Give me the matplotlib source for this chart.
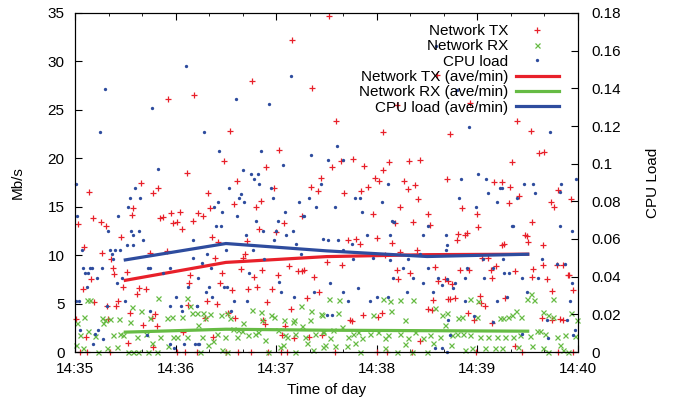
import numpy as np
import matplotlib
matplotlib.use("Agg")
import matplotlib.pyplot as plt
from matplotlib.ticker import MultipleLocator, FuncFormatter

plt.rcParams['font.family'] = ['Liberation Sans', 'DejaVu Sans']
plt.rcParams['font.size'] = 11

# seconds after 14:35:00, Network TX in Mb/s
tx_points = [
    (55.3, 26.1), (71.0, 26.5), (66.6, 18.5), (39.6, 17.4), (49.7, 16.9), (46.3, 16.4), (8.3, 16.5),
    (10.5, 13.8), (1.6, 13.2), (15.5, 13.4), (18.5, 13.0), (34.8, 14.9), (34.2, 14.1), (52.5, 13.9),
    (50.5, 13.8), (62.6, 14.5), (57.3, 14.3), (58.6, 13.3), (60.6, 13.4), (63.6, 12.7), (70.6, 13.5),
    (73.6, 14.4), (27.4, 11.9), (16.3, 10.2), (5.6, 10.8), (21.3, 9.6), (22.5, 8.7), (23.5, 8.1),
    (9.3, 7.5), (30.8, 8.3), (44.7, 10.2), (54.7, 10.4), (4.6, 6.5), (28.4, 6.7), (38.4, 6.6),
    (42.3, 6.5), (36.8, 6.0), (68.6, 7.9), (68.2, 7.1), (11.5, 5.2), (25.8, 5.3), (18.9, 4.7),
    (24.5, 4.7), (32.8, 4.0), (67.6, 4.9), (47.7, 3.9), (45.7, 3.5), (48.7, 2.7), (40.4, 2.8),
    (6.6, 1.5), (31.6, 0.9), (19.5, 3.4), (0.3, 3.4), (3.0, 0.0), (6.9, 0.0), (20.9, 0.0),
    (60.6, 0.0), (65.6, 0.0), (72.6, 0.0), (46.7, 0.5), (64.6, 2.1),
    (129.6, 32.2), (105.8, 28.0), (141.5, 27.3), (92.4, 22.8), (88.9, 19.7), (121.7, 20.9),
    (113.7, 19.1), (96.4, 17.7), (146.7, 18.0), (140.6, 17.0), (144.7, 16.6), (118.7, 16.9),
    (79.5, 16.4), (110.7, 15.6), (94.8, 15.3), (107.8, 15.0), (80.5, 14.9), (76.5, 14.0),
    (135.6, 14.0), (124.8, 13.3), (109.7, 12.7), (119.9, 12.4), (81.5, 11.9), (85.5, 11.4),
    (102.4, 11.5), (101.4, 10.1), (100.4, 9.7), (83.5, 9.7), (98.8, 8.6), (87.5, 8.2), (111.7, 8.5),
    (106.8, 7.7), (120.9, 7.9), (133.2, 8.4), (135.2, 8.4), (136.8, 8.5), (127.6, 8.9), (142.5, 7.7),
    (86.5, 7.1), (93.4, 6.4), (103.4, 6.5), (108.3, 6.7), (117.7, 6.5), (145.7, 6.2), (138.6, 5.6),
    (78.9, 5.3), (84.5, 5.0), (114.7, 5.2), (128.6, 4.4), (95.4, 3.5), (91.5, 4.0), (77.5, 3.5),
    (112.3, 3.3), (113.3, 2.9), (125.2, 2.7), (82.5, 1.6), (123.7, 1.8), (130.6, 1.4), (139.6, 1.6),
    (89.9, 0.0), (97.4, 0.0), (104.8, 0.0), (122.7, 0.0), (126.6, 0.0), (115.3, 0.0),
    (151.7, 34.7), (215.7, 28.6), (191.8, 25.5), (155.6, 23.9), (183.5, 22.7), (153.1, 19.1),
    (158.6, 19.7), (165.6, 19.9), (172.5, 19.2), (183.9, 18.8), (187.5, 19.6), (199.4, 19.7),
    (205.7, 19.8), (178.9, 18.0), (181.5, 17.7), (196.4, 17.7), (202.8, 17.2), (221.6, 17.9),
    (174.5, 17.0), (170.6, 16.6), (160.6, 16.4), (198.4, 16.8), (204.7, 15.8), (193.8, 15.0),
    (177.5, 14.2), (210.7, 14.2), (190.8, 13.3), (201.8, 13.4), (211.7, 13.1), (163.0, 11.6),
    (167.6, 11.7), (179.9, 11.8), (188.8, 11.3), (170.0, 11.1), (184.9, 10.0), (193.8, 10.3),
    (203.8, 10.5), (150.1, 9.3), (159.0, 9.0), (191.8, 8.5), (199.8, 8.2), (214.7, 8.8), (216.7, 7.3),
    (192.8, 7.5), (222.6, 7.3), (222.6, 5.5), (213.7, 5.4), (210.7, 4.4), (212.7, 4.3), (182.9, 4.0),
    (171.9, 3.8), (180.9, 3.6), (164.0, 3.3), (165.0, 3.2), (147.1, 1.8), (179.9, 0.0), (185.9, 0.0),
    (155.0, 0.0), (200.8, 0.0), (205.7, 1.1),
    (263.4, 23.9), (272.0, 22.8), (223.7, 22.5), (280.0, 20.7), (277.0, 20.5), (260.9, 19.6),
    (250.1, 17.6), (254.9, 17.6), (259.5, 17.0), (287.9, 16.7), (295.8, 15.8), (264.8, 16.1),
    (283.9, 15.5), (258.9, 15.4), (231.0, 14.9), (285.9, 15.0), (239.6, 14.2), (240.6, 12.9),
    (272.8, 13.4), (228.7, 12.2), (233.6, 12.3), (232.6, 12.1), (268.4, 12.1), (269.4, 12.0),
    (227.7, 11.6), (270.0, 11.4), (254.5, 11.0), (256.1, 11.1), (278.9, 11.0), (243.0, 9.7),
    (246.1, 9.7), (250.9, 8.9), (229.6, 8.5), (235.0, 8.5), (248.1, 8.5), (262.4, 8.4), (273.4, 8.6),
    (278.9, 9.0), (287.3, 9.0), (291.3, 9.0), (293.9, 8.0), (294.7, 7.9), (220.7, 7.5), (224.7, 7.0),
    (248.5, 7.6), (272.4, 7.7), (281.3, 7.5), (297.2, 6.4), (284.7, 6.3), (223.7, 5.5), (226.7, 5.6),
    (241.6, 5.8), (242.2, 5.1), (244.6, 4.7), (256.5, 5.6), (234.6, 4.0), (238.2, 3.3), (248.5, 3.0),
    (278.7, 3.5), (284.3, 3.3), (289.3, 3.4), (291.3, 3.3), (262.4, 0.6), (239.0, 0.0), (266.8, 0.0),
    (288.3, 0.0), (297.2, 0.0), (235.6, 25.7),
]

# Network RX in Mb/s
rx_points = [
    (6.9, 5.4), (8.9, 5.4), (5.4, 3.6), (15.9, 3.5), (17.9, 3.3), (20.9, 3.4), (26.4, 3.4), (33.8, 4.6),
    (39.4, 4.2), (49.7, 5.6), (44.7, 3.5), (54.7, 3.5), (57.7, 3.6), (63.6, 3.6), (66.6, 5.6),
    (68.6, 4.7), (69.6, 4.0), (3.0, 1.8), (7.9, 2.2), (11.9, 1.7), (22.9, 1.8), (26.8, 1.9),
    (28.8, 1.8), (36.8, 1.6), (45.7, 0.9), (50.7, 1.5), (58.6, 1.6), (60.6, 1.5), (66.6, 1.6),
    (0.4, 0.7), (5.0, 0.4), (18.9, 0.4), (24.9, 0.5), (31.8, 0.0), (34.8, 0.0), (37.8, 0.0),
    (43.7, 0.0), (48.7, 0.0), (13.9, 0.0), (1.0, 3.0), (16.9, 3.0), (32.8, 3.1), (42.3, 1.9), (55.7, 0.6),
    (72.6, 4.0), (76.5, 4.0), (80.5, 3.9), (87.1, 3.8), (90.5, 4.0), (92.4, 3.5), (100.4, 3.0),
    (105.8, 4.3), (110.7, 4.1), (116.9, 3.8), (118.9, 3.6), (111.3, 3.3), (124.6, 3.3), (129.8, 3.1),
    (130.6, 3.3), (134.6, 4.7), (135.6, 2.7), (140.2, 3.3), (140.6, 4.2), (146.7, 3.9), (73.6, 2.8),
    (77.5, 3.5), (94.4, 2.4), (97.4, 2.3), (99.4, 2.2), (103.4, 1.8), (107.4, 1.9), (109.3, 2.1),
    (113.3, 1.2), (121.3, 2.3), (125.2, 1.8), (131.2, 1.9), (137.2, 1.6), (143.1, 1.9), (147.7, 2.2),
    (79.5, 0.7), (82.5, 1.1), (87.5, 0.2), (90.5, 0.0), (74.6, 0.0), (115.3, 0.0), (124.2, 0.7),
    (122.3, 0.5), (131.2, 0.0), (142.1, 0.2), (148.1, 0.5), (75.5, 1.6), (84.5, 1.9), (89.5, 1.6),
    (96.4, 1.6), (126.2, 1.5), (138.2, 0.9),
    (151.7, 5.5), (157.6, 5.4), (183.9, 5.5), (187.8, 5.3), (193.8, 5.4), (201.8, 5.4), (147.1, 3.8),
    (157.0, 4.0), (177.9, 3.8), (188.5, 4.2), (197.1, 3.3), (218.7, 3.8), (221.6, 4.0), (214.7, 4.5),
    (148.1, 2.1), (154.1, 2.3), (159.0, 2.6), (166.0, 1.9), (168.9, 2.1), (175.9, 1.9), (180.9, 2.1),
    (186.8, 1.8), (193.8, 1.9), (202.8, 2.1), (211.7, 1.8), (217.7, 1.6), (152.1, 1.4), (163.0, 1.6),
    (170.9, 1.4), (184.9, 1.4), (198.8, 1.4), (207.7, 1.4), (155.0, 0.6), (162.0, 0.6), (170.0, 0.0),
    (184.9, 0.4), (191.8, 0.0), (200.8, 0.0), (209.7, 0.0), (149.1, 0.7), (166.9, 0.9), (196.8, 0.8),
    (213.7, 0.9),
    (235.6, 5.5), (240.6, 5.3), (269.4, 5.5), (272.0, 6.0), (274.0, 5.4), (285.3, 5.5), (228.7, 3.5),
    (230.6, 3.6), (239.6, 3.6), (253.5, 3.5), (255.5, 3.5), (258.5, 3.6), (260.5, 3.8), (263.1, 4.2),
    (266.0, 3.6), (279.3, 4.1), (282.3, 3.8), (285.3, 3.6), (295.8, 4.0), (299.2, 3.3), (220.7, 2.8),
    (224.7, 1.8), (227.7, 1.9), (231.6, 1.9), (235.6, 1.8), (241.6, 1.6), (246.5, 1.6), (251.5, 1.6),
    (256.5, 1.6), (261.5, 1.6), (265.4, 1.8), (271.4, 1.7), (275.4, 2.2), (277.4, 2.2), (280.3, 1.9),
    (287.3, 1.6), (292.3, 1.8), (298.2, 1.7), (224.3, 0.7), (232.6, 0.2), (236.6, 0.4), (244.6, 0.4),
    (250.5, 0.4), (254.5, 0.4), (264.4, 0.5), (272.8, 0.6), (279.3, 0.4), (282.3, 0.0), (289.3, 0.7),
    (291.3, 0.2), (294.3, 0.0),
]

# CPU load (right axis)
cpu_points = [
    (66.0, 0.1520), (17.9, 0.1394), (14.9, 0.1170), (45.9, 0.1293), (49.3, 0.0970), (0.6, 0.0894),
    (1.4, 0.0720), (35.8, 0.0870), (32.8, 0.0820), (38.8, 0.0820), (31.8, 0.0769), (25.8, 0.0720),
    (33.6, 0.0641), (38.0, 0.0643), (34.8, 0.0620), (19.9, 0.0643), (30.8, 0.0569), (34.8, 0.0569),
    (40.8, 0.0594), (20.9, 0.0544), (23.9, 0.0544), (26.8, 0.0544), (21.9, 0.0519), (22.9, 0.0493),
    (4.0, 0.0544), (5.0, 0.0444), (8.9, 0.0444), (9.9, 0.0444), (5.9, 0.0419), (7.9, 0.0419),
    (15.9, 0.0444), (12.9, 0.0394), (24.9, 0.0369), (27.8, 0.0394), (6.9, 0.0343), (0.3, 0.0271),
    (2.6, 0.0271), (18.9, 0.0244), (29.8, 0.0271), (43.3, 0.0444), (44.7, 0.0444), (56.7, 0.0444),
    (70.6, 0.0497), (70.2, 0.0594), (52.3, 0.0419), (60.0, 0.0294), (67.6, 0.0343), (73.2, 0.0394),
    (56.7, 0.0244), (63.0, 0.0244), (72.6, 0.0244), (44.7, 0.0219), (63.8, 0.0219), (3.0, 0.0118),
    (13.9, 0.0118), (11.9, 0.0094), (16.9, 0.0069), (10.5, 0.0044), (42.7, 0.0090), (56.7, 0.0044),
    (65.0, 0.0044), (71.6, 0.0044), (73.6, 0.0044), (59.0, 0.0020),
    (128.8, 0.1468), (95.8, 0.1343), (115.7, 0.1318), (76.9, 0.1168), (85.9, 0.1069), (110.9, 0.1067),
    (100.0, 0.0968), (105.0, 0.0944), (108.9, 0.0944), (107.0, 0.0921), (109.7, 0.0894), (91.8, 0.0870),
    (99.0, 0.0841), (98.0, 0.0820), (101.0, 0.0794), (85.1, 0.0794), (82.9, 0.0769), (87.9, 0.0744),
    (96.8, 0.0720), (83.9, 0.0670), (86.9, 0.0670), (108.0, 0.0694), (111.9, 0.0643), (102.0, 0.0620),
    (106.0, 0.0544), (89.9, 0.0544), (78.9, 0.0519), (76.0, 0.0470), (80.9, 0.0444), (79.9, 0.0345),
    (77.9, 0.0320), (88.9, 0.0345), (90.9, 0.0345), (73.0, 0.0244), (81.9, 0.0294), (94.8, 0.0271),
    (102.8, 0.0271), (92.8, 0.0219), (104.0, 0.0421), (112.9, 0.0493), (118.9, 0.0594), (120.9, 0.0694),
    (119.9, 0.0641), (123.9, 0.0995), (117.9, 0.0820), (116.9, 0.0870), (125.8, 0.0620), (129.8, 0.0641),
    (131.8, 0.0571), (134.8, 0.0519), (125.2, 0.0744), (121.9, 0.0371), (122.9, 0.0320), (130.8, 0.0294),
    (135.8, 0.0720), (136.8, 0.0720), (139.8, 0.0818), (140.8, 0.1045), (143.7, 0.0769), (142.7, 0.0320),
    (133.8, 0.0794), (147.7, 0.0599), (74.0, 0.0044),
    (215.1, 0.1624), (156.0, 0.1094), (150.7, 0.1018), (159.6, 0.1018), (146.5, 0.0894), (167.0, 0.0820),
    (170.0, 0.0820), (155.0, 0.0769), (182.9, 0.0794), (186.9, 0.0894), (171.0, 0.0744), (188.8, 0.0694),
    (190.2, 0.0691), (187.8, 0.0620), (173.9, 0.0620), (210.7, 0.0670), (207.7, 0.0620), (157.0, 0.0594),
    (165.0, 0.0571), (151.1, 0.0594), (160.0, 0.0544), (166.0, 0.0493), (177.9, 0.0497), (187.8, 0.0488),
    (198.8, 0.0493), (205.7, 0.0518), (195.8, 0.0444), (189.8, 0.0394), (201.8, 0.0394), (207.7, 0.0369),
    (152.1, 0.0369), (160.0, 0.0316), (169.0, 0.0341), (175.9, 0.0271), (180.0, 0.0294), (186.9, 0.0294),
    (197.8, 0.0320), (213.7, 0.0320), (218.7, 0.0355), (216.7, 0.0394), (210.7, 0.0444), (150.1, 0.0196),
    (153.1, 0.0196), (163.0, 0.0271), (214.7, 0.0020), (218.7, 0.0020), (221.6, 0.0002), (221.6, 0.0567),
    (227.7, 0.1389), (235.0, 0.1195), (283.3, 0.1168), (230.2, 0.0921), (240.2, 0.0944), (245.2, 0.0921),
    (253.5, 0.0871), (254.5, 0.0871), (268.0, 0.0894), (273.4, 0.0894), (289.9, 0.0894), (298.6, 0.0921),
    (229.0, 0.0820), (246.5, 0.0845), (251.5, 0.0794), (263.4, 0.0818), (274.4, 0.0845), (239.0, 0.0769),
    (289.3, 0.0847), (260.5, 0.0670), (261.5, 0.0670), (221.1, 0.0620), (289.3, 0.0670), (296.2, 0.0643),
    (221.5, 0.0541), (243.6, 0.0493), (255.5, 0.0493), (278.4, 0.0493), (287.3, 0.0468), (292.3, 0.0468),
    (233.6, 0.0444), (256.1, 0.0421), (259.1, 0.0421), (249.5, 0.0444), (221.7, 0.0390), (232.6, 0.0394),
    (244.2, 0.0394), (225.7, 0.0341), (226.7, 0.0369), (266.4, 0.0394), (276.4, 0.0394), (296.2, 0.0369),
    (232.6, 0.0271), (257.5, 0.0294), (251.5, 0.0271), (269.4, 0.0320), (295.3, 0.0271), (222.3, 0.0170),
    (238.2, 0.0193), (281.3, 0.0170), (293.3, 0.0170), (223.7, 0.0090), (266.4, 0.0094), (282.3, 0.0073),
    (297.2, 0.0090), (298.2, 0.0117), (249.5, 0.0161),
]

# per-minute averages, at the middle of each minute
avg_t = [30, 90, 150, 210, 270]
tx_avg = [7.4, 9.25, 9.85, 10.05, 10.1]
rx_avg = [2.05, 2.35, 2.25, 2.2, 2.15]
cpu_avg = [0.0489, 0.0576, 0.0537, 0.0507, 0.0519]

xtick_pos = [0, 60, 120, 180, 240, 300]
xtick_labels = ['14:35', '14:36', '14:37', '14:38', '14:39', '14:40']

red = '#e8202a'
green = '#66bb44'
blue = '#2e4c9e'

fig = plt.figure(figsize=(6.73, 4.05), dpi=100)
ax = fig.add_axes([75/673, 53/405, 503/673, 339/405])
ax2 = ax.twinx()

tx_t, tx_v = zip(*tx_points)
rx_t, rx_v = zip(*rx_points)
cpu_t, cpu_v = zip(*cpu_points)

h1, = ax.plot(tx_t, tx_v, '+', color=red, ms=4.4, mew=0.9, clip_on=False, label='Network TX')
h2, = ax.plot(rx_t, rx_v, 'x', color=green, ms=3.6, mew=0.9, clip_on=False, label='Network RX')
h3, = ax2.plot(cpu_t, cpu_v, 'o', color=blue, ms=2.4, mew=0, clip_on=False, label='CPU load')
h4, = ax.plot(avg_t, tx_avg, '-', color=red, lw=2.3, label='Network TX (ave/min)')
h5, = ax.plot(avg_t, rx_avg, '-', color=green, lw=2.3, label='Network RX (ave/min)')
h6, = ax2.plot(avg_t, cpu_avg, '-', color=blue, lw=2.3, label='CPU load (ave/min)')

ax.set_xlim(0, 300)
ax.set_ylim(0, 35)
ax2.set_ylim(0, 0.18)

ax.set_xticks(xtick_pos)
ax.set_xticklabels(xtick_labels)
ax.xaxis.set_minor_locator(MultipleLocator(20))
ax.set_yticks(range(0, 36, 5))
ax2.set_yticks(np.arange(0, 0.181, 0.02))
ax2.yaxis.set_major_formatter(FuncFormatter(lambda v, p: '%g' % round(v, 3)))

ax.tick_params(axis='x', which='both', direction='in', top=True, pad=7)
ax.tick_params(axis='x', which='major', length=5)
ax.tick_params(axis='x', which='minor', length=2.5)
ax.tick_params(axis='y', direction='in', length=5, right=False, pad=7.5)
ax2.tick_params(axis='y', direction='in', length=5, pad=9.5)
for a in (ax, ax2):
    for s in a.spines.values():
        s.set_linewidth(0.8)

ax.set_xlabel('Time of day')
ax.set_ylabel('Mb/s')
ax2.set_ylabel('CPU Load')
ax.xaxis.set_label_coords(0.5, -0.092)
ax.yaxis.set_label_coords(-0.099, 0.5)
ax2.yaxis.set_label_coords(1.135, 0.5)

handles = [h1, h2, h3, h4, h5, h6]
ax2.legend(handles, [h.get_label() for h in handles], loc='upper right',
           bbox_to_anchor=(0.962, 0.968), frameon=False, markerfirst=False,
           handlelength=2.8, handletextpad=0.5, labelspacing=0.09,
           borderpad=0, borderaxespad=0, numpoints=1)

fig.savefig('out.png', dpi=100)
